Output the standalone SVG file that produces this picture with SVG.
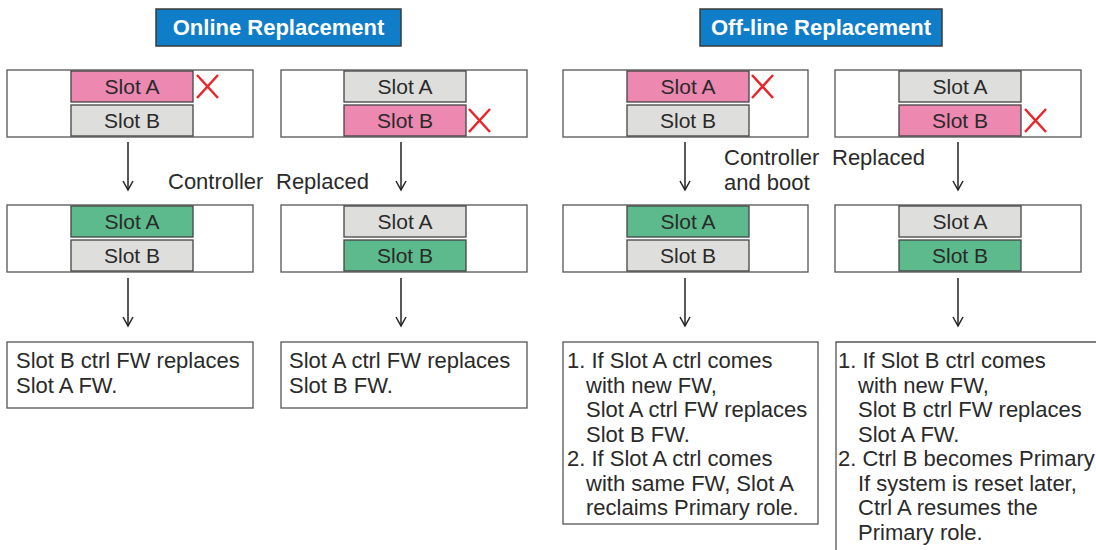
<svg xmlns="http://www.w3.org/2000/svg" width="1096" height="550" viewBox="0 0 1096 550">
<style>
text{font-family:"Liberation Sans",Arial,sans-serif;font-size:22px;fill:#2a2a2a}
.title{font-weight:bold;fill:#fff;font-size:22px}
.s{font-size:21px}
.tbox{fill:#0f7dc8;stroke:#3a3a3a;stroke-width:1.5}
.outer{fill:#fff;stroke:#555;stroke-width:1.3}
.pink{fill:#ed88b0;stroke:#444;stroke-width:1.3}
.gray{fill:#dededc;stroke:#444;stroke-width:1.3}
.green{fill:#5cba8c;stroke:#444;stroke-width:1.3}
.c{text-anchor:middle}
.x{stroke:#e8262a;stroke-width:2.5;fill:none}
.arr{stroke:#222;stroke-width:1.5;fill:none}
.note{fill:#fff;stroke:#555;stroke-width:1.3}
</style>
<defs>
<marker id="ah" markerWidth="12" markerHeight="12" refX="10" refY="6" orient="auto" markerUnits="userSpaceOnUse" viewBox="0 0 12 12">
<path d="M1,1 L10,6 L1,11" fill="none" stroke="#222" stroke-width="1.5"/>
</marker>
</defs>

<g id="title-online"><rect class="tbox" x="156" y="9" width="245" height="37"/><text class="title c" x="278.5" y="35">Online Replacement</text></g>
<g id="title-offline"><rect class="tbox" x="700" y="9" width="242" height="37"/><text class="title c" x="821" y="35">Off-line Replacement</text></g>

<g id="on1-top"><rect class="outer" x="7" y="70" width="246" height="67"/><rect class="pink" x="71" y="71" width="122" height="31"/><text class="c s" x="132" y="94">Slot A</text><rect class="gray" x="71" y="105" width="122" height="31"/><text class="c s" x="132" y="128">Slot B</text><path class="x" d="M197,75 L218,98 M218,75 L197,98"/></g>
<g id="on2-top"><rect class="outer" x="281" y="70" width="246" height="67"/><rect class="gray" x="344" y="71" width="122" height="31"/><text class="c s" x="405" y="94">Slot A</text><rect class="pink" x="344" y="105" width="122" height="31"/><text class="c s" x="405" y="128">Slot B</text><path class="x" d="M469,109 L490,132 M490,109 L469,132"/></g>
<g id="off1-top"><rect class="outer" x="563" y="70" width="245" height="67"/><rect class="pink" x="627" y="71" width="122" height="31"/><text class="c s" x="688" y="94">Slot A</text><rect class="gray" x="627" y="105" width="122" height="31"/><text class="c s" x="688" y="128">Slot B</text><path class="x" d="M752,75 L773,98 M773,75 L752,98"/></g>
<g id="off2-top"><rect class="outer" x="835" y="70" width="246" height="67"/><rect class="gray" x="899" y="71" width="122" height="31"/><text class="c s" x="960" y="94">Slot A</text><rect class="pink" x="899" y="105" width="122" height="31"/><text class="c s" x="960" y="128">Slot B</text><path class="x" d="M1025,109 L1046,132 M1046,109 L1025,132"/></g>

<g id="on1-mid"><rect class="outer" x="7" y="205" width="246" height="67"/><rect class="green" x="71" y="206" width="122" height="31"/><text class="c s" x="132" y="229">Slot A</text><rect class="gray" x="71" y="240" width="122" height="31"/><text class="c s" x="132" y="263">Slot B</text></g>
<g id="on2-mid"><rect class="outer" x="281" y="205" width="246" height="67"/><rect class="gray" x="344" y="206" width="122" height="31"/><text class="c s" x="405" y="229">Slot A</text><rect class="green" x="344" y="240" width="122" height="31"/><text class="c s" x="405" y="263">Slot B</text></g>
<g id="off1-mid"><rect class="outer" x="563" y="205" width="245" height="67"/><rect class="green" x="627" y="206" width="122" height="31"/><text class="c s" x="688" y="229">Slot A</text><rect class="gray" x="627" y="240" width="122" height="31"/><text class="c s" x="688" y="263">Slot B</text></g>
<g id="off2-mid"><rect class="outer" x="835" y="205" width="246" height="67"/><rect class="gray" x="899" y="206" width="122" height="31"/><text class="c s" x="960" y="229">Slot A</text><rect class="green" x="899" y="240" width="122" height="31"/><text class="c s" x="960" y="263">Slot B</text></g>

<g id="label-online"><text x="168" y="189">Controller</text><text x="276" y="189">Replaced</text></g>
<g id="label-offline"><text x="724" y="165">Controller</text><text x="832" y="165">Replaced</text><text x="724" y="190">and boot</text></g>

<g id="note-on1"><rect class="note" x="7" y="342" width="246" height="66"/><text x="16" y="368">Slot B ctrl FW replaces</text><text x="16" y="392.5">Slot A FW.</text></g>
<g id="note-on2"><rect class="note" x="281" y="342" width="246" height="66"/><text x="289" y="368">Slot A ctrl FW replaces</text><text x="289" y="392.5">Slot B FW.</text></g>
<g id="note-off1"><rect class="note" x="563" y="342" width="255" height="182"/>
<text x="567" y="368">1. If Slot A ctrl comes</text>
<text x="586" y="392.5">with new FW,</text>
<text x="586" y="417">Slot A ctrl FW replaces</text>
<text x="586" y="441.5">Slot B FW.</text>
<text x="567" y="466">2. If Slot A ctrl comes</text>
<text x="586" y="490.5">with same FW, Slot A</text>
<text x="586" y="515">reclaims Primary role.</text></g>
<g id="note-off2"><path class="note" d="M836,560 L836,342 L1100,342"/>
<text x="838" y="368">1. If Slot B ctrl comes</text>
<text x="858" y="392.5">with new FW,</text>
<text x="858" y="417">Slot B ctrl FW replaces</text>
<text x="858" y="441.5">Slot A FW.</text>
<text x="838" y="466">2. Ctrl B becomes Primary</text>
<text x="858" y="490.5">If system is reset later,</text>
<text x="858" y="515">Ctrl A resumes the</text>
<text x="858" y="539.5">Primary role.</text></g>

<g id="connectors">
<line class="arr" x1="128" y1="142" x2="128" y2="190" marker-end="url(#ah)"/>
<line class="arr" x1="401" y1="142" x2="401" y2="190" marker-end="url(#ah)"/>
<line class="arr" x1="685" y1="142" x2="685" y2="190" marker-end="url(#ah)"/>
<line class="arr" x1="958" y1="142" x2="958" y2="190" marker-end="url(#ah)"/>
<line class="arr" x1="128" y1="278" x2="128" y2="326" marker-end="url(#ah)"/>
<line class="arr" x1="401" y1="278" x2="401" y2="326" marker-end="url(#ah)"/>
<line class="arr" x1="685" y1="278" x2="685" y2="326" marker-end="url(#ah)"/>
<line class="arr" x1="958" y1="278" x2="958" y2="326" marker-end="url(#ah)"/>
</g>
</svg>
